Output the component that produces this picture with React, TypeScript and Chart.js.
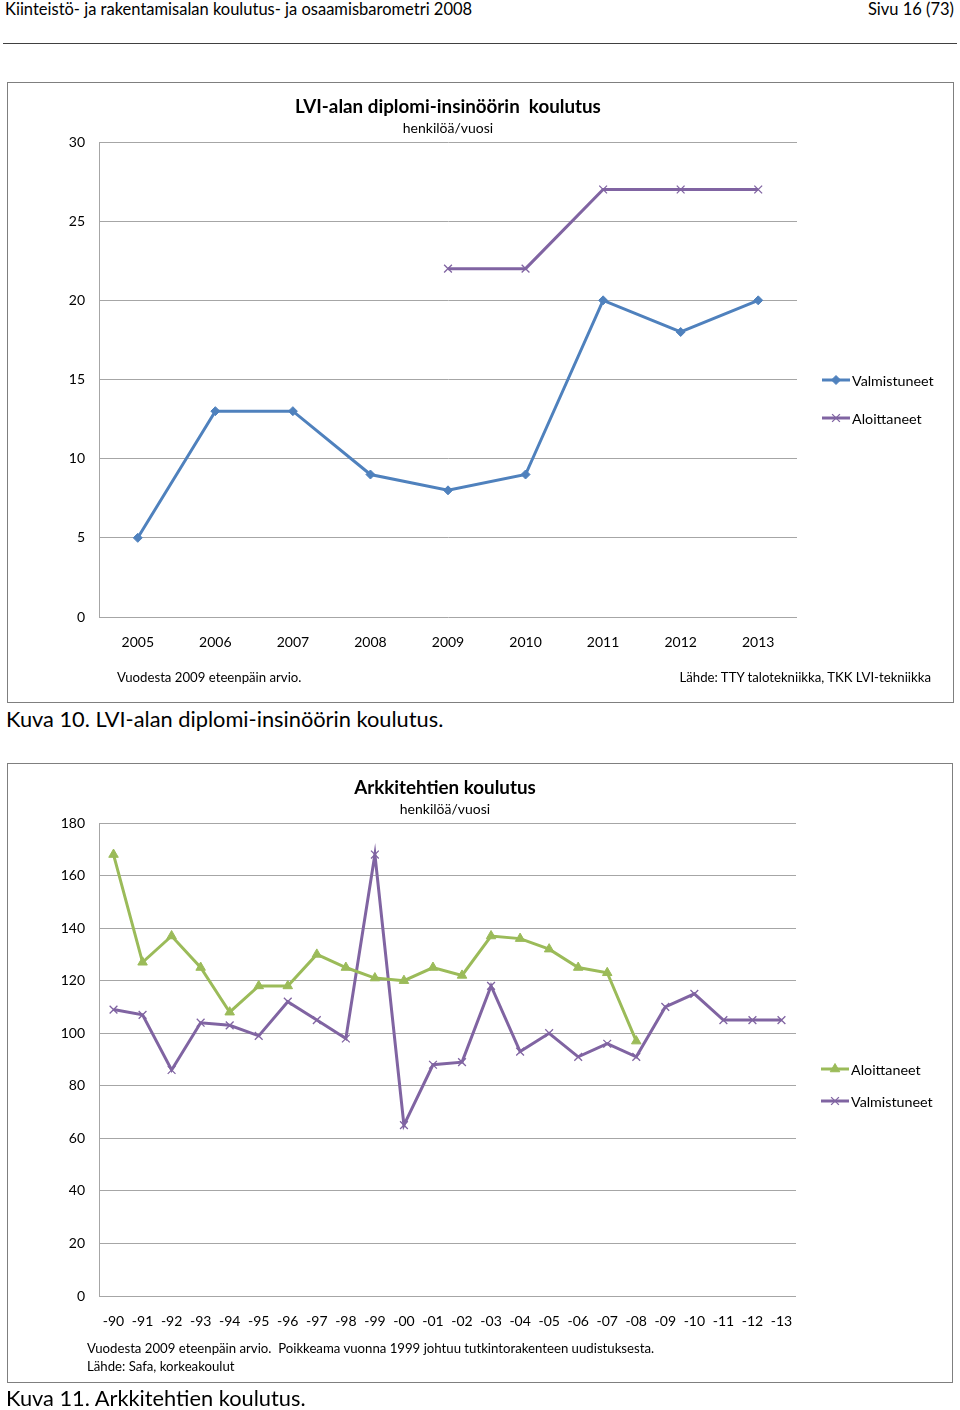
import React, { useEffect, useRef } from "react";
import { Chart, registerables } from "chart.js";
import { drawPoint } from "chart.js/helpers";

Chart.register(...registerables);

// ---------- data ----------
const lviYears = ["2005", "2006", "2007", "2008", "2009", "2010", "2011", "2012", "2013"];
const lviValmistuneet = [5, 13, 13, 9, 8, 9, 20, 18, 20];
const lviAloittaneet = [null, null, null, null, 22, 22, 27, 27, 27];
const lviYMax = 30;
const lviYStep = 5;

const arkYears = [
  "-90", "-91", "-92", "-93", "-94", "-95", "-96", "-97", "-98", "-99",
  "-00", "-01", "-02", "-03", "-04", "-05", "-06", "-07", "-08", "-09",
  "-10", "-11", "-12", "-13",
];
const arkAloittaneet = [
  168, 127, 137, 125, 108, 118, 118, 130, 125, 121,
  120, 125, 122, 137, 136, 132, 125, 123, 97, null,
  null, null, null, null,
];
const arkValmistuneet = [
  109, 107, 86, 104, 103, 99, 112, 105, 98, 168,
  65, 88, 89, 118, 93, 100, 91, 96, 91, 110,
  115, 105, 105, 105,
];
const arkYMax = 180;
const arkYStep = 20;

const FONT = "Lato, 'Open Sans', sans-serif";
const BLUE = "#4F81BD";
const PURPLE = "#8064A2";
const GREEN = "#9BBB59";
const GRID = "#A6A6A6";

const sideLegend = {
  id: "sideLegend",
  afterDraw(chart: any, _args: any, opts: any) {
    if (!opts || !opts.ys) return;
    const { ctx, chartArea } = chart;
    ctx.save();
    chart.data.datasets.forEach((ds: any, i: number) => {
      const y = chartArea.top + opts.ys[i];
      const x0 = chartArea.right + opts.x;
      ctx.strokeStyle = ds.borderColor;
      ctx.lineWidth = ds.borderWidth;
      ctx.beginPath();
      ctx.moveTo(x0, y);
      ctx.lineTo(x0 + 28, y);
      ctx.stroke();
      ctx.fillStyle = ds.pointBackgroundColor;
      ctx.strokeStyle = ds.pointBorderColor;
      ctx.lineWidth = ds.pointBorderWidth;
      drawPoint(ctx, {
        pointStyle: ds.pointStyle,
        radius: ds.pointRadius,
        rotation: 0,
        borderWidth: ds.pointBorderWidth,
      } as any, x0 + 14, y);
      ctx.fillStyle = "#000";
      ctx.font = `14.3px ${FONT}`;
      ctx.textAlign = "left";
      ctx.textBaseline = "middle";
      ctx.fillText(ds.label, x0 + 30, y + 1);
    });
    ctx.restore();
  },
};

function makeConfig(labels: string[], datasets: any[], yMax: number, yStep: number, bottomPad: number, legendYs: number[]) {
  return {
    type: "line",
    data: { labels, datasets },
    options: {
      responsive: false,
      animation: false,
      maintainAspectRatio: false,
      layout: { padding: { left: 31, right: 156, top: 59, bottom: bottomPad } },
      plugins: {
        legend: { display: false },
        title: { display: false },
        tooltip: { enabled: false },
        sideLegend: { x: 25, ys: legendYs },
      },
      scales: {
        x: {
          offset: true,
          grid: { display: false, drawTicks: false },
          border: { display: false },
          ticks: { color: "#000", font: { family: FONT, size: 14 }, padding: 17, maxRotation: 0, autoSkip: false },
          afterFit: (s: any) => { s.height = 50; },
        },
        y: {
          min: 0,
          max: yMax,
          grid: { color: GRID, lineWidth: 1, drawTicks: false },
          border: { display: true, color: GRID, width: 1 },
          ticks: { stepSize: yStep, color: "#000", font: { family: FONT, size: 14 }, padding: 14 },
          afterFit: (s: any) => { s.width = 60; },
        },
      },
    },
    plugins: [sideLegend],
  };
}

function ChartCanvas({ config, left, top, width, height }: any) {
  const ref = useRef<HTMLCanvasElement>(null);
  useEffect(() => {
    if (!ref.current) return;
    const chart = new Chart(ref.current, config);
    return () => chart.destroy();
  }, []);
  return (
    <canvas
      ref={ref}
      width={width}
      height={height}
      style={{ position: "absolute", left, top, width, height }}
    />
  );
}

const lineDs = (label: string, data: any[], color: string, pointStyle: string, radius: number, pbw: number) => ({
  label,
  data,
  borderColor: color,
  backgroundColor: color,
  borderWidth: 3,
  tension: 0,
  spanGaps: false,
  pointStyle,
  pointRadius: radius,
  pointBorderWidth: pbw,
  pointBackgroundColor: color,
  pointBorderColor: color,
});

export default function App() {
  const lviConfig = makeConfig(
    lviYears,
    [
      lineDs("Valmistuneet", lviValmistuneet, BLUE, "rectRot", 4.5, 1),
      lineDs("Aloittaneet", lviAloittaneet, PURPLE, "crossRot", 5.5, 1.3),
    ],
    lviYMax, lviYStep, 35, [238, 276]
  );
  const arkConfig = makeConfig(
    arkYears,
    [
      lineDs("Aloittaneet", arkAloittaneet, GREEN, "triangle", 5.5, 1),
      lineDs("Valmistuneet", arkValmistuneet, PURPLE, "crossRot", 5.5, 1.3),
    ],
    arkYMax, arkYStep, 36, [246, 278]
  );

  const abs = (s: any) => ({ position: "absolute" as const, ...s });
  const txt = { fontFamily: FONT, color: "#000", whiteSpace: "nowrap" as const };

  return (
    <div style={abs({ left: 0, top: 0, width: 960, height: 1410, background: "#fff", overflow: "hidden" })}>
      {/* page header */}
      <div style={abs({ ...txt, left: 5, top: 0, fontSize: 16.5, lineHeight: "18px" })}>
        Kiinteistö- ja rakentamisalan koulutus- ja osaamisbarometri 2008
      </div>
      <div style={abs({ ...txt, right: 6, top: 0, fontSize: 16.5, lineHeight: "18px" })}>Sivu 16 (73)</div>
      <div style={abs({ left: 3, top: 43, width: 954, height: 1, background: "#404040" })} />

      {/* chart 1 frame */}
      <div style={abs({ left: 7, top: 82, width: 945, height: 619, border: "1px solid #7F7F7F" })} />
      <ChartCanvas config={lviConfig} left={8} top={83} width={945} height={619} />
      <div style={abs({ ...txt, left: 99, width: 698, top: 95, textAlign: "center", fontSize: 18.8, fontWeight: 700, lineHeight: "22px" })}>
        LVI-alan diplomi-insinöörin&nbsp; koulutus
      </div>
      <div style={abs({ ...txt, left: 99, width: 698, top: 119, textAlign: "center", fontSize: 14, lineHeight: "18px" })}>
        henkilöä/vuosi
      </div>
      <div style={abs({ ...txt, left: 117, top: 669, fontSize: 13.2, lineHeight: "16px" })}>
        Vuodesta 2009 eteenpäin arvio.
      </div>
      <div style={abs({ ...txt, right: 29, top: 669, fontSize: 13.2, lineHeight: "16px" })}>
        Lähde: TTY talotekniikka, TKK LVI-tekniikka
      </div>
      <div style={abs({ ...txt, left: 6, top: 706, fontSize: 21.8, lineHeight: "26px" })}>
        Kuva 10. LVI-alan diplomi-insinöörin koulutus.
      </div>

      {/* chart 2 frame */}
      <div style={abs({ left: 7, top: 763, width: 944, height: 618, border: "1px solid #7F7F7F" })} />
      <ChartCanvas config={arkConfig} left={8} top={764} width={944} height={618} />
      <div style={abs({ ...txt, left: 99, width: 692, top: 776, textAlign: "center", fontSize: 18.8, fontWeight: 700, lineHeight: "22px" })}>
        Arkkitehtien koulutus
      </div>
      <div style={abs({ ...txt, left: 99, width: 692, top: 800, textAlign: "center", fontSize: 14, lineHeight: "18px" })}>
        henkilöä/vuosi
      </div>
      <div style={abs({ ...txt, left: 87, top: 1340, fontSize: 13.2, lineHeight: "16px" })}>
        Vuodesta 2009 eteenpäin arvio.&nbsp; Poikkeama vuonna 1999 johtuu tutkintorakenteen uudistuksesta.
      </div>
      <div style={abs({ ...txt, left: 87, top: 1358, fontSize: 13.2, lineHeight: "16px" })}>
        Lähde: Safa, korkeakoulut
      </div>
      <div style={abs({ ...txt, left: 6, top: 1385, fontSize: 21.8, lineHeight: "26px" })}>
        Kuva 11. Arkkitehtien koulutus.
      </div>
    </div>
  );
}
